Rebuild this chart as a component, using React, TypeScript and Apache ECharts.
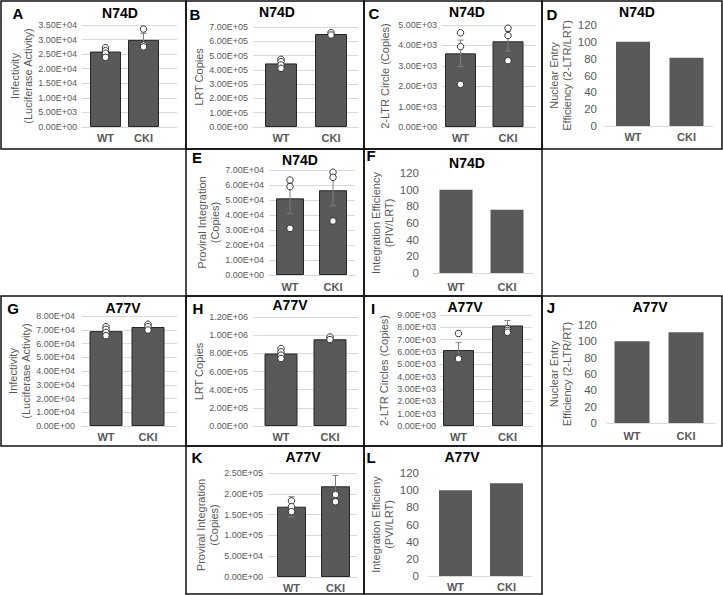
import React, { useEffect, useRef } from "react";
import * as echarts from "echarts";

// ---------- data ----------
const categories = ["WT", "CKI"];

// N74D
const aMeans = [25900, 29900];
const aErrors = [750, 2250];
const aPointsWT = [27200, 26200, 25300, 23900];
const aPointsCKI = [33600, 28100, 27500];
const aTicks = [0, 35000, 5000];

const bMeans = [445000, 651000];
const bErrors = [13000, 7000];
const bPointsWT = [474000, 457000, 434000, 411000];
const bPointsCKI = [660000, 644000];
const bTicks = [0, 700000, 100000];

const cMeans = [3610, 4200];
const cErrors = [650, 480];
const cPointsWT = [4620, 3940, 2090];
const cPointsCKI = [4840, 4480, 3250];
const cTicks = [0, 5000, 1000];

const dValues = [100, 81];
const dTicks = [0, 120, 20];

const eMeans = [51100, 56500];
const eErrors = [10000, 10300];
const ePointsWT = [63300, 58900, 31100];
const ePointsCKI = [68500, 65100, 36000];
const eTicks = [0, 70000, 10000];

const fValues = [100, 76];
const fTicks = [0, 120, 20];

// A77V
const gMeans = [69000, 72000];
const gErrors = [1300, 1200];
const gPointsWT = [72200, 70300, 68100, 65700];
const gPointsCKI = [74000, 72200, 69800];
const gTicks = [0, 80000, 10000];

const hMeans = [798000, 955000];
const hErrors = [24000, 14000];
const hPointsWT = [853000, 816000, 780000, 743000];
const hPointsCKI = [980000, 952000];
const hTicks = [0, 1200000, 200000];

const iMeans = [6160, 8150];
const iErrors = [600, 400];
const iPointsWT = [7500, 5550, 5450];
const iPointsCKI = [7900, 7750, 7600];
const iTicks = [0, 9000, 1000];

const jValues = [100, 111];
const jTicks = [0, 120, 20];

const kMeans = [169000, 218000];
const kErrors = [24000, 26000];
const kPointsWT = [183000, 169000, 157000];
const kPointsCKI = [198000, 181000];
const kTicks = [0, 250000, 50000];

const lValues = [100, 108];
const lTicks = [0, 120, 20];

// ---------- panel definitions (text + layout) ----------
type Panel = {
  letter: string;
  title: string;
  yName: string;
  means: number[];
  errors?: number[];
  ptsWT?: number[];
  ptsCKI?: number[];
  ticks: number[];
  sci: boolean;
  gl: number; gr: number; top: number; bottom: number;
  c0: number; c1: number; bw: number;
  ylm: number; xlm: number; nameGap: number;
  letterPos: number[]; titlePos: number[];
  box: number[];
};

const panels: Panel[] = [
  { letter: "A", title: "N74D", yName: "Infectivity\n(Luciferase Activity)", means: aMeans, errors: aErrors, ptsWT: aPointsWT, ptsCKI: aPointsCKI, ticks: aTicks, sci: true,
    gl: 82, gr: 177, top: 25, bottom: 127, c0: 105.5, c1: 143.5, bw: 31, ylm: 5, xlm: 5, nameGap: 43, letterPos: [18, 13], titlePos: [120, 13], box: [1, 1, 186, 149] },
  { letter: "B", title: "N74D", yName: "LRT Copies", means: bMeans, errors: bErrors, ptsWT: bPointsWT, ptsCKI: bPointsCKI, ticks: bTicks, sci: true,
    gl: 253, gr: 358, top: 27, bottom: 127, c0: 281, c1: 331, bw: 32, ylm: 5, xlm: 5, nameGap: 45, letterPos: [195, 14], titlePos: [277, 12], box: [186, 1, 364, 149] },
  { letter: "C", title: "N74D", yName: "2-LTR Circle (Copies)", means: cMeans, errors: cErrors, ptsWT: cPointsWT, ptsCKI: cPointsCKI, ticks: cTicks, sci: true,
    gl: 442, gr: 536, top: 25, bottom: 127, c0: 460.5, c1: 508, bw: 31, ylm: 5, xlm: 5, nameGap: 51, letterPos: [374, 13], titlePos: [467, 12], box: [364, 1, 542, 149] },
  { letter: "D", title: "N74D", yName: "Nuclear Entry\nEfficiency (2-LTR/LRT)", means: dValues, ticks: dTicks, sci: false,
    gl: 605, gr: 713, top: 25, bottom: 126, c0: 633, c1: 686.5, bw: 34, ylm: 8, xlm: 5, nameGap: 26, letterPos: [552, 14], titlePos: [637, 12], box: [542, 1, 722, 149] },
  { letter: "E", title: "N74D", yName: "Proviral Integration\n(Copies)", means: eMeans, errors: eErrors, ptsWT: ePointsWT, ptsCKI: ePointsCKI, ticks: eTicks, sci: true,
    gl: 269, gr: 355, top: 170, bottom: 275, c0: 290, c1: 333, bw: 28, ylm: 5, xlm: 6, nameGap: 45, letterPos: [197, 157], titlePos: [300, 160], box: [186, 149, 364, 296] },
  { letter: "F", title: "N74D", yName: "Integration Efficiency\n(PIV/LRT)", means: fValues, ticks: fTicks, sci: false,
    gl: 433, gr: 533, top: 173, bottom: 273, c0: 456, c1: 507, bw: 33, ylm: 14, xlm: 8, nameGap: 29, letterPos: [371, 155], titlePos: [467, 163], box: [364, 149, 542, 296] },
  { letter: "G", title: "A77V", yName: "Infectivity\n(Luciferase Activity)", means: gMeans, errors: gErrors, ptsWT: gPointsWT, ptsCKI: gPointsCKI, ticks: gTicks, sci: true,
    gl: 82, gr: 177, top: 316, bottom: 426, c0: 106, c1: 148, bw: 33, ylm: 7, xlm: 5, nameGap: 43, letterPos: [13, 308], titlePos: [123, 308], box: [1, 296, 186, 446] },
  { letter: "H", title: "A77V", yName: "LRT Copies", means: hMeans, errors: hErrors, ptsWT: hPointsWT, ptsCKI: hPointsCKI, ticks: hTicks, sci: true,
    gl: 253, gr: 358, top: 317, bottom: 426, c0: 281, c1: 330, bw: 33, ylm: 5, xlm: 5, nameGap: 45, letterPos: [198, 308], titlePos: [290, 305], box: [186, 296, 364, 446] },
  { letter: "I", title: "A77V", yName: "2-LTR Circles (Copies)", means: iMeans, errors: iErrors, ptsWT: iPointsWT, ptsCKI: iPointsCKI, ticks: iTicks, sci: true,
    gl: 440, gr: 532, top: 315, bottom: 426, c0: 458.5, c1: 507.5, bw: 31, ylm: 4, xlm: 5, nameGap: 50, letterPos: [373, 308], titlePos: [465, 307], box: [364, 296, 542, 446] },
  { letter: "J", title: "A77V", yName: "Nuclear Entry\nEfficiency (2-LTR/RT)", means: jValues, ticks: jTicks, sci: false,
    gl: 607, gr: 715, top: 325, bottom: 423, c0: 632, c1: 686, bw: 35, ylm: 10, xlm: 7, nameGap: 28, letterPos: [551, 307], titlePos: [650, 307], box: [542, 296, 722, 446] },
  { letter: "K", title: "A77V", yName: "Proviral Integration\n(Copies)", means: kMeans, errors: kErrors, ptsWT: kPointsWT, ptsCKI: kPointsCKI, ticks: kTicks, sci: true,
    gl: 268, gr: 357, top: 473, bottom: 577, c0: 291.5, c1: 335.5, bw: 29, ylm: 5, xlm: 5, nameGap: 43, letterPos: [197, 457], titlePos: [303, 457], box: [186, 446, 364, 594] },
  { letter: "L", title: "A77V", yName: "Integration Efficieny\n(PVI/LRT)", means: lValues, ticks: lTicks, sci: false,
    gl: 428, gr: 532, top: 473, bottom: 576, c0: 455.5, c1: 506.5, bw: 33, ylm: 9, xlm: 5, nameGap: 25, letterPos: [371, 457], titlePos: [462, 457], box: [364, 446, 542, 594] },
];

const FONT = "'Liberation Sans', Arial, sans-serif";
const NARROW = "'Liberation Sans Narrow', 'Liberation Sans', Arial, sans-serif";
const GRAY = "#595959";

function sciFmt(v: number): string {
  if (v === 0) return "0.00E+00";
  const exp = Math.floor(Math.log10(v) + 1e-9);
  const mant = v / Math.pow(10, exp);
  return mant.toFixed(2) + "E+" + String(exp).padStart(2, "0");
}

function buildOption() {
  const grid: any[] = [];
  const xAxis: any[] = [];
  const yAxis: any[] = [];
  const series: any[] = [];
  const graphic: any[] = [];

  panels.forEach((p, i) => {
    const u = p.c1 - p.c0;
    const xmin = -(p.c0 - p.gl) / u;
    const xmax = 1 + (p.gr - p.c1) / u;
    grid.push({ left: p.gl, top: p.top, width: p.gr - p.gl, height: p.bottom - p.top });
    xAxis.push({
      type: "value",
      gridIndex: i,
      min: xmin,
      max: xmax,
      axisLine: { show: true, lineStyle: { color: "#d9d9d9", width: 1 } },
      axisTick: { show: false },
      splitLine: { show: false },
      axisLabel: {
        customValues: [0, 1],
        formatter: (v: number) => categories[Math.round(v)] ?? "",
        color: GRAY,
        fontWeight: "bold",
        fontSize: 11,
        fontFamily: FONT,
        margin: p.xlm,
      },
    });
    yAxis.push({
      type: "value",
      gridIndex: i,
      min: p.ticks[0],
      max: p.ticks[1],
      interval: p.ticks[2],
      axisLine: { show: false },
      axisTick: { show: false },
      splitLine: { show: p.sci, lineStyle: { color: "#d9d9d9", width: 1 } },
      axisLabel: {
        formatter: p.sci ? sciFmt : (v: number) => String(v),
        color: GRAY,
        fontSize: p.sci ? 9 : 11.5,
        fontFamily: p.sci ? NARROW : FONT,
        margin: p.ylm,
      },
      name: p.yName,
      nameLocation: "middle",
      nameGap: p.nameGap,
      nameTextStyle: { color: GRAY, fontSize: 11, lineHeight: 13, fontFamily: FONT },
    });
    series.push({
      type: "bar",
      xAxisIndex: i,
      yAxisIndex: i,
      barWidth: p.bw,
      data: p.means.map((v, k) => [k, v]),
      itemStyle: p.sci
        ? { color: "#595959", borderColor: "#262626", borderWidth: 1 }
        : { color: "#595959" },
      z: 2,
    });
    if (p.errors) {
      const errs = p.errors;
      series.push({
        type: "custom",
        xAxisIndex: i,
        yAxisIndex: i,
        data: p.means.map((m, k) => [k, m, errs[k]]),
        encode: { x: 0, y: 1 },
        z: 3,
        renderItem: (params: any, api: any) => {
          const x = api.value(0);
          const y = api.value(1);
          const e = api.value(2);
          const t = api.coord([x, y + e]);
          const b = api.coord([x, y - e]);
          const cap = 3;
          const st = { stroke: "#7f7f7f", lineWidth: 1 };
          return {
            type: "group",
            children: [
              { type: "line", shape: { x1: t[0], y1: t[1], x2: b[0], y2: b[1] }, style: st },
              { type: "line", shape: { x1: t[0] - cap, y1: t[1], x2: t[0] + cap, y2: t[1] }, style: st },
              { type: "line", shape: { x1: b[0] - cap, y1: b[1], x2: b[0] + cap, y2: b[1] }, style: st },
            ],
          };
        },
      });
    }
    if (p.ptsWT && p.ptsCKI) {
      series.push({
        type: "scatter",
        xAxisIndex: i,
        yAxisIndex: i,
        symbol: "circle",
        symbolSize: 6.5,
        data: [...p.ptsWT.map((v) => [0, v]), ...p.ptsCKI.map((v) => [1, v])],
        itemStyle: { color: "#ffffff", borderColor: "#333333", borderWidth: 1, opacity: 1 },
        z: 4,
      });
    }
    const [x0, y0, x1, y1] = p.box;
    graphic.push({
      type: "rect",
      shape: { x: x0, y: y0, width: x1 - x0, height: y1 - y0 },
      style: { fill: "none", stroke: "#111", lineWidth: 1.5 },
      z: 10,
    });
    graphic.push({
      type: "text",
      x: p.letterPos[0],
      y: p.letterPos[1],
      style: { text: p.letter, fill: "#000", font: `bold 15px ${FONT}`, textAlign: "center", textVerticalAlign: "middle" },
    });
    graphic.push({
      type: "text",
      x: p.titlePos[0],
      y: p.titlePos[1],
      style: { text: p.title, fill: "#000", font: `bold 14px ${FONT}`, textAlign: "center", textVerticalAlign: "middle" },
    });
  });

  return {
    animation: false,
    backgroundColor: "#ffffff",
    grid,
    xAxis,
    yAxis,
    series,
    graphic,
  };
}

export default function App() {
  const ref = useRef<HTMLDivElement>(null);
  useEffect(() => {
    if (!ref.current) return;
    const chart = echarts.init(ref.current, undefined, { renderer: "svg" });
    chart.setOption(buildOption() as any);
    return () => chart.dispose();
  }, []);
  return (
    <div
      ref={ref}
      style={{ position: "fixed", left: 0, top: 0, width: 723, height: 595, background: "#fff" }}
    />
  );
}
